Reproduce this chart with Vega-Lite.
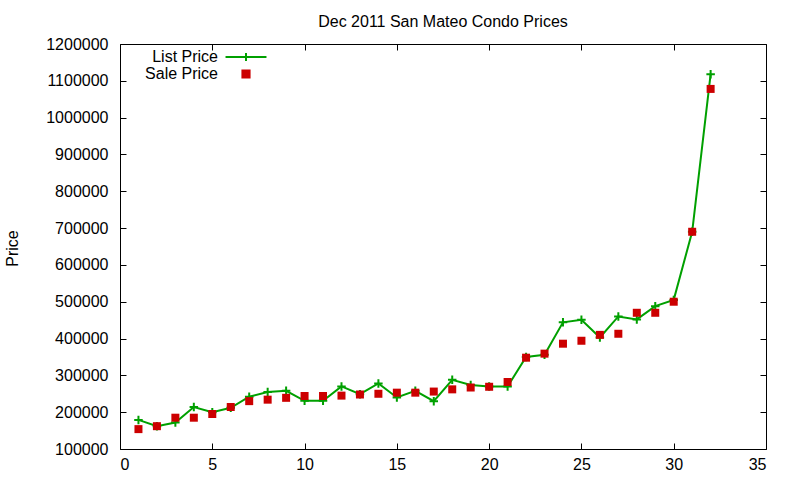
{
  "$schema": "https://vega.github.io/schema/vega-lite/v6.json",
  "width": 646,
  "height": 405,
  "autosize": {"type": "none"},
  "padding": {"left": 120, "top": 44, "right": 34, "bottom": 31},
  "background": "white",
  "title": {"text": "Dec 2011 San Mateo Condo Prices", "font": "Liberation Sans", "fontSize": 16, "fontWeight": "normal", "color": "black", "offset": 6},
  "data": {"values": [
    {"x": 1, "series": "List Price", "price": 179000},
    {"x": 2, "series": "List Price", "price": 162000},
    {"x": 3, "series": "List Price", "price": 172000},
    {"x": 4, "series": "List Price", "price": 214000},
    {"x": 5, "series": "List Price", "price": 200000},
    {"x": 6, "series": "List Price", "price": 212000},
    {"x": 7, "series": "List Price", "price": 242000},
    {"x": 8, "series": "List Price", "price": 255000},
    {"x": 9, "series": "List Price", "price": 258000},
    {"x": 10, "series": "List Price", "price": 231000},
    {"x": 11, "series": "List Price", "price": 231000},
    {"x": 12, "series": "List Price", "price": 270000},
    {"x": 13, "series": "List Price", "price": 249000},
    {"x": 14, "series": "List Price", "price": 278000},
    {"x": 15, "series": "List Price", "price": 240000},
    {"x": 16, "series": "List Price", "price": 258000},
    {"x": 17, "series": "List Price", "price": 230000},
    {"x": 18, "series": "List Price", "price": 288000},
    {"x": 19, "series": "List Price", "price": 274000},
    {"x": 20, "series": "List Price", "price": 270000},
    {"x": 21, "series": "List Price", "price": 270000},
    {"x": 22, "series": "List Price", "price": 350000},
    {"x": 23, "series": "List Price", "price": 356000},
    {"x": 24, "series": "List Price", "price": 444000},
    {"x": 25, "series": "List Price", "price": 451000},
    {"x": 26, "series": "List Price", "price": 403000},
    {"x": 27, "series": "List Price", "price": 460000},
    {"x": 28, "series": "List Price", "price": 452000},
    {"x": 29, "series": "List Price", "price": 488000},
    {"x": 30, "series": "List Price", "price": 505000},
    {"x": 31, "series": "List Price", "price": 690000},
    {"x": 32, "series": "List Price", "price": 1118000},
    {"x": 1, "series": "Sale Price", "price": 154000},
    {"x": 2, "series": "Sale Price", "price": 162000},
    {"x": 3, "series": "Sale Price", "price": 185000},
    {"x": 4, "series": "Sale Price", "price": 185000},
    {"x": 5, "series": "Sale Price", "price": 195000},
    {"x": 6, "series": "Sale Price", "price": 214000},
    {"x": 7, "series": "Sale Price", "price": 230000},
    {"x": 8, "series": "Sale Price", "price": 234000},
    {"x": 9, "series": "Sale Price", "price": 239000},
    {"x": 10, "series": "Sale Price", "price": 244000},
    {"x": 11, "series": "Sale Price", "price": 244000},
    {"x": 12, "series": "Sale Price", "price": 245000},
    {"x": 13, "series": "Sale Price", "price": 248000},
    {"x": 14, "series": "Sale Price", "price": 250000},
    {"x": 15, "series": "Sale Price", "price": 253000},
    {"x": 16, "series": "Sale Price", "price": 253000},
    {"x": 17, "series": "Sale Price", "price": 256000},
    {"x": 18, "series": "Sale Price", "price": 262000},
    {"x": 19, "series": "Sale Price", "price": 267000},
    {"x": 20, "series": "Sale Price", "price": 269000},
    {"x": 21, "series": "Sale Price", "price": 282000},
    {"x": 22, "series": "Sale Price", "price": 348000},
    {"x": 23, "series": "Sale Price", "price": 359000},
    {"x": 24, "series": "Sale Price", "price": 386000},
    {"x": 25, "series": "Sale Price", "price": 394000},
    {"x": 26, "series": "Sale Price", "price": 410000},
    {"x": 27, "series": "Sale Price", "price": 413000},
    {"x": 28, "series": "Sale Price", "price": 470000},
    {"x": 29, "series": "Sale Price", "price": 470000},
    {"x": 30, "series": "Sale Price", "price": 500000},
    {"x": 31, "series": "Sale Price", "price": 690000},
    {"x": 32, "series": "Sale Price", "price": 1078000}
  ]},
  "resolve": {"axis": {"x": "independent", "y": "independent"}},
  "layer": [
    {
      "transform": [{"filter": "datum.series === 'List Price'"}],
      "mark": {"type": "line", "color": "#00a000", "strokeWidth": 2},
      "encoding": {
        "x": {"field": "x", "type": "quantitative", "scale": {"domain": [0, 35], "nice": false},
          "axis": {"orient": "top", "values": [0, 5, 10, 15, 20, 25, 30, 35], "labels": false, "grid": false, "title": null, "tickSize": -6}},
        "y": {"field": "price", "type": "quantitative", "scale": {"domain": [100000, 1200000], "nice": false, "zero": false},
          "axis": {"orient": "right", "values": [100000, 200000, 300000, 400000, 500000, 600000, 700000, 800000, 900000, 1000000, 1100000, 1200000], "labels": false, "grid": false, "title": null, "tickSize": -6}}
      }
    },
    {
      "transform": [{"filter": "datum.series === 'List Price'"}],
      "mark": {"type": "point", "shape": "M-1,0H1M0,-1V1", "filled": false, "color": "#00a000", "strokeWidth": 2, "size": 72, "opacity": 1},
      "encoding": {
        "x": {"field": "x", "type": "quantitative", "scale": {"domain": [0, 35], "nice": false},
          "axis": {"orient": "bottom", "values": [0, 5, 10, 15, 20, 25, 30, 35], "title": null, "tickSize": -6, "labelPadding": 13}},
        "y": {"field": "price", "type": "quantitative", "scale": {"domain": [100000, 1200000], "nice": false, "zero": false},
          "axis": {"orient": "left", "values": [100000, 200000, 300000, 400000, 500000, 600000, 700000, 800000, 900000, 1000000, 1100000, 1200000], "format": "d", "title": "Price", "tickSize": -6, "labelPadding": 18,
            "titleAngle": -90, "titleX": -108, "titleY": 204, "titleAlign": "center", "titleBaseline": "middle"}}
      }
    },
    {
      "transform": [{"filter": "datum.series === 'Sale Price'"}],
      "mark": {"type": "square", "color": "#cc0000", "size": 64, "opacity": 1},
      "encoding": {
        "x": {"field": "x", "type": "quantitative", "axis": null},
        "y": {"field": "price", "type": "quantitative", "axis": null}
      }
    },
    {
      "mark": {"type": "point", "opacity": 0, "strokeWidth": 2},
      "encoding": {
        "x": {"field": "x", "type": "quantitative", "axis": null},
        "y": {"field": "price", "type": "quantitative", "axis": null},
        "shape": {"field": "series", "type": "nominal", "scale": {"domain": ["List Price", "Sale Price"], "range": ["M-3.15,0H3.15M0,-0.62V0.62", "M-0.55,-0.55H0.55V0.55H-0.55Z"]},
          "legend": {"title": null, "orient": "none", "legendX": 118, "legendY": 5, "symbolSize": 169, "symbolOpacity": 1, "labelAlign": "right", "labelOffset": -36, "rowPadding": -1, "symbolStrokeWidth": 2}},
        "stroke": {"field": "series", "type": "nominal", "scale": {"domain": ["List Price", "Sale Price"], "range": ["#00a000", "#cc0000"]},
          "legend": {"title": null, "orient": "none", "legendX": 118, "legendY": 5, "symbolSize": 169, "symbolOpacity": 1, "labelAlign": "right", "labelOffset": -36, "rowPadding": -1, "symbolStrokeWidth": 2}},
        "fill": {"field": "series", "type": "nominal", "scale": {"domain": ["List Price", "Sale Price"], "range": ["transparent", "#cc0000"]},
          "legend": {"title": null, "orient": "none", "legendX": 118, "legendY": 5, "symbolSize": 169, "symbolOpacity": 1, "labelAlign": "right", "labelOffset": -36, "rowPadding": -1, "symbolStrokeWidth": 2}}
      }
    }
  ],
  "config": {
    "font": "Liberation Sans",
    "view": {"stroke": "black", "strokeWidth": 1},
    "axis": {"domain": false, "tickColor": "black", "labelFont": "Liberation Sans", "labelFontSize": 16, "labelColor": "black",
      "titleFont": "Liberation Sans", "titleFontSize": 16, "titleFontWeight": "normal", "titleColor": "black",
      "gridColor": "#a0a0a0", "gridDash": [3, 3], "gridOpacity": 1},
    "legend": {"labelFont": "Liberation Sans", "labelFontSize": 16, "labelColor": "black"}
  }
}
